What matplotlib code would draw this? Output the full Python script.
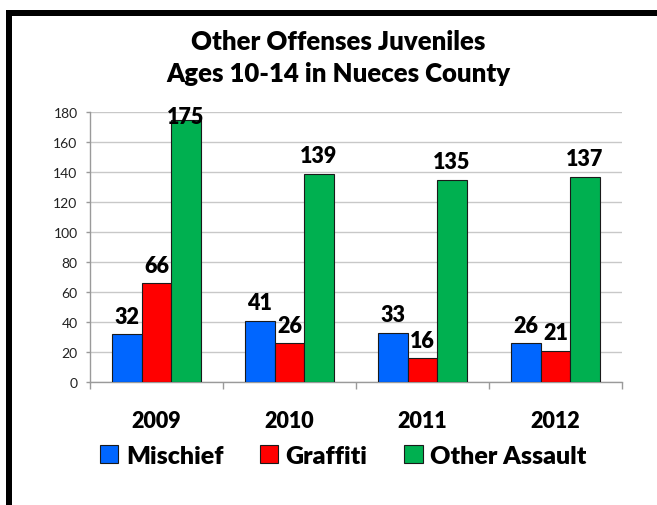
import matplotlib
matplotlib.use("Agg")
import matplotlib.pyplot as plt
import numpy as np
from matplotlib.lines import Line2D

years = ["2009", "2010", "2011", "2012"]
series_names = ["Mischief", "Graffiti", "Other Assault"]
mischief = [32, 41, 33, 26]
graffiti = [66, 26, 16, 21]
other_assault = [175, 139, 135, 137]
y_ticks = [0, 20, 40, 60, 80, 100, 120, 140, 160, 180]
title_lines = ["Other Offenses Juveniles", "Ages 10-14 in Nueces County"]

colors = ["#0066FF", "#FF0000", "#00B050"]
FONT = "Lato"
BW = "heavy"

W, H, DPI = 657, 506, 100
fig = plt.figure(figsize=(W / DPI, H / DPI), dpi=DPI)
fig.patch.set_facecolor("white")

ax_l, ax_r, ax_b, ax_t = 90, 622, 383, 113
ax = fig.add_axes([ax_l / W, 1 - ax_b / H, (ax_r - ax_l) / W, (ax_b - ax_t) / H])

x = np.arange(len(years))
bw = 0.222
data = [mischief, graffiti, other_assault]
for i, (vals, c, name) in enumerate(zip(data, colors, series_names)):
    ax.bar(x + (i - 1) * bw, vals, width=bw, color=c, edgecolor="#1a1a1a",
           linewidth=0.8, label=name, zorder=3)

ax.set_xlim(-0.5, len(years) - 0.5)
ax.set_ylim(0, 180)
ax.set_yticks(y_ticks)
ax.set_yticklabels([str(t) for t in y_ticks], fontsize=10, family=FONT, color="#222222")
ax.yaxis.grid(True, color="#C8C8C8", linewidth=1.0, zorder=0)
ax.set_axisbelow(True)

ax.set_xticks(x)
ax.set_xticklabels(years, fontsize=15.5, fontweight=BW, family=FONT)
ax.set_xticks(np.arange(-0.5, len(years)), minor=True)
ax.tick_params(axis="x", which="major", length=0, pad=20)
ax.tick_params(axis="x", which="minor", length=5, color="#9a9a9a", width=1)
ax.tick_params(axis="y", length=3, color="#9a9a9a", width=1, pad=6)

for s in ["top", "right"]:
    ax.spines[s].set_visible(False)
for s in ["left", "bottom"]:
    ax.spines[s].set_color("#9a9a9a")
    ax.spines[s].set_linewidth(1.0)

# data labels
px_per_unit = (ax_b - ax_t) / 180.0
pt_per_px = 72.0 / DPI
label_h = 15
for i, vals in enumerate(data):
    for j, v in enumerate(vals):
        bar_top_px = ax_b - v * px_per_unit
        baseline_px = bar_top_px - 11
        if baseline_px - label_h < ax_t - 4:
            baseline_px = ax_t - 4 + label_h
        off_px = bar_top_px - baseline_px
        ax.annotate(str(v), (x[j] + (i - 1) * bw, v), xytext=(0, off_px * pt_per_px),
                    textcoords="offset points", ha="center", va="baseline",
                    fontsize=15.5, fontweight=BW, family=FONT, zorder=5,
                    annotation_clip=False)

# title
cx = 338 / W
fig.text(cx, 1 - 50 / H, title_lines[0], ha="center", va="baseline",
         fontsize=18.5, fontweight=BW, family=FONT)
fig.text(cx, 1 - 82 / H, title_lines[1], ha="center", va="baseline",
         fontsize=18.5, fontweight=BW, family=FONT)

# legend
handles, labels = ax.get_legend_handles_labels()
leg = fig.legend(handles, labels, loc="center", bbox_to_anchor=(343 / W, 1 - 457 / H),
                 ncol=3, frameon=False, prop={"family": FONT, "weight": BW, "size": 18},
                 handlelength=0.75, handleheight=0.75, handletextpad=0.3, columnspacing=1.45)

# frame
fig.add_artist(Line2D([9 / W, 9 / W], [0, 1 - 11 / H], color="black", linewidth=6 * pt_per_px,
                      solid_capstyle="butt", transform=fig.transFigure))
fig.add_artist(Line2D([6 / W, 1.0], [1 - 14 / H, 1 - 14 / H], color="black", linewidth=6 * pt_per_px,
                      solid_capstyle="butt", transform=fig.transFigure))

fig.savefig("out.png", dpi=DPI)
